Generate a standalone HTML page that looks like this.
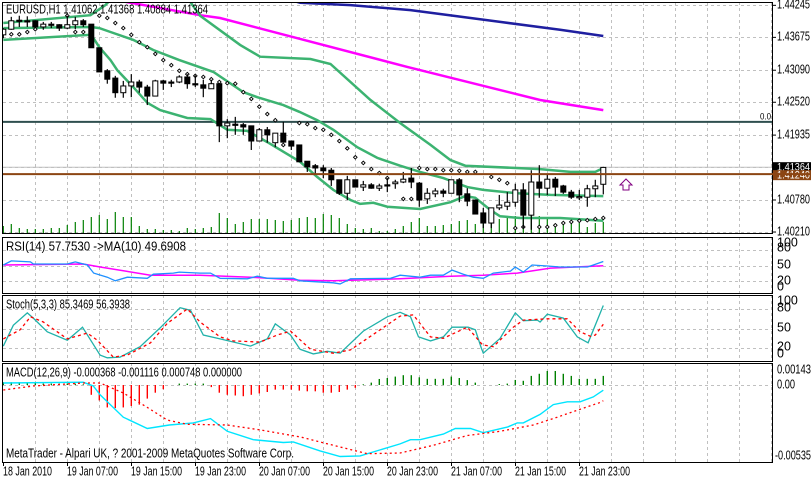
<!DOCTYPE html>
<html><head><meta charset="utf-8">
<style>
html,body{margin:0;padding:0;background:#fff;}
svg{display:block;font-family:"Liberation Sans",sans-serif;}
</style></head>
<body>
<svg id="chart" width="811" height="479" viewBox="0 0 811 479" xmlns="http://www.w3.org/2000/svg">
<rect x="0" y="0" width="811" height="479" fill="#fff"/>
<defs>
<clipPath id="cMain"><rect x="3" y="2" width="769" height="231"/></clipPath>
<clipPath id="cRsi"><rect x="3" y="238" width="769" height="55"/></clipPath>
<clipPath id="cSto"><rect x="3" y="296" width="769" height="65"/></clipPath>
<clipPath id="cMacd"><rect x="3" y="364" width="769" height="98"/></clipPath>
</defs>
<g id="grid"></g>
<g id="main" clip-path="url(#cMain)"></g>
<g id="rsi" clip-path="url(#cRsi)"></g>
<g id="sto" clip-path="url(#cSto)"></g>
<g id="macd" clip-path="url(#cMacd)"></g>
<g id="frames"></g>
<g id="labels"></g>
</svg>
<script>
// ---- data (prices in 1e-4 units, e.g. 14372 = 1.4372) ----
const timeLabels=["18 Jan 2010","19 Jan 07:00","19 Jan 15:00","19 Jan 23:00","20 Jan 07:00","20 Jan 15:00","20 Jan 23:00","21 Jan 07:00","21 Jan 15:00","21 Jan 23:00"];
const openP=[14372,14382,14398,14397,14397,14386,14391,14390,14384,14390,
14397,14391,14349,14308,14295,14269,14281,14288,14279,14263,
14290,14288,14288,14297,14285,14283,14276,14285,14210,14213,
14212,14210,14183,14203,14180,14197,14183,14176,14147,14139,
14135,14131,14114,14090,14114,14101,14105,14099,14105,14107,
14110,14117,14108,14080,14089,14094,14090,14114,14089,14078,
14055,14037,14064,14067,14074,14096,14051,14110,14099,14115,
14103,14092,14083,14083,14098,14106];
const highP=[14384,14404,14406,14405,14398,14395,14395,14391,14406,14404,
14400,14391,14349,14311,14299,14290,14302,14292,14283,14292,
14292,14292,14300,14302,14300,14292,14292,14285,14222,14226,
14215,14210,14206,14208,14197,14217,14183,14176,14147,14142,
14140,14135,14114,14121,14114,14112,14108,14107,14117,14114,
14128,14135,14110,14099,14099,14098,14114,14117,14099,14078,
14064,14064,14087,14092,14107,14108,14131,14140,14123,14119,
14105,14096,14096,14105,14114,14137];
const lowP=[14366,14381,14386,14386,14384,14381,14384,14379,14382,14382,
14386,14349,14306,14285,14260,14260,14261,14269,14247,14263,
14274,14279,14286,14276,14279,14261,14276,14181,14188,14194,
14194,14167,14183,14180,14172,14180,14167,14146,14128,14123,
14117,14103,14087,14078,14101,14094,14098,14094,14092,14098,
14108,14099,14066,14071,14083,14083,14090,14074,14067,14053,
14028,14028,14060,14060,14066,14028,14025,14082,14087,14085,
14089,14080,14078,14066,14083,14088];
const closeP=[14382,14397,14397,14396,14386,14391,14389,14384,14390,14397,
14390,14349,14306,14293,14269,14281,14288,14279,14263,14290,
14286,14287,14297,14285,14284,14277,14285,14210,14215,14212,
14208,14183,14203,14194,14197,14181,14174,14146,14137,14135,
14130,14114,14090,14114,14101,14105,14099,14103,14104,14110,
14115,14110,14078,14090,14094,14090,14114,14087,14076,14053,
14037,14064,14069,14074,14096,14051,14110,14099,14115,14101,
14092,14083,14084,14098,14103,14136];
const volumes=[700,900,500,400,400,400,500,500,800,1100,
1300,1600,1800,1400,2100,1600,1600,700,400,400,
300,300,200,500,400,500,600,2000,1500,900,
1100,1400,1400,1400,1300,1200,1300,1500,1600,1500,
1900,1800,1500,900,500,400,500,200,200,400,
700,1100,1500,700,700,800,900,1200,1300,900,
1400,1500,1400,1700,1700,1700,1800,1700,1500,900,
1000,1000,1000,600,1000,1100];
const sarP=[14375,14373,14373,14377,14382,null,null,null,14406,14377,
14377,null,14406,14402,14393,14384,14372,14359,14350,14338,
14327,14318,14308,14302,14299,14297,14293,14288,14286,14285,
14270,14258,14244,14231,14220,14176,null,14215,14213,14206,
14203,14194,14183,14170,14154,14144,14133,14126,14117,null,
14080,14080,14135,14133,14133,14131,14131,14130,14128,14128,
null,14119,14114,14108,14028,14030,null,14030,14030,14033,
14037,14039,14041,14042,14044,14046];
const bandUpIdx=[0,10.9,12.75,14,22.75,24.6,29.6,32.1,38.4,40.9,45.9,49.6,53.4,55.9,57.75,67.1,70.9,74,75];
const bandUpVal=[14393,14407,14425,14443,14443,14406,14354,14333,14329,14320,14256,14215,14176,14149,14139,14133,14128,14128,14135];
const bandMidIdx=[0,11,12,13.4,16.25,18.75,22,26.25,30,31.75,35,37,39.25,41.25,44.25,46.75,49.6,52.1,55,58,60,64.25,68.4,75];
const bandMidVal=[14384,14386,14384,14377,14363,14345,14327,14306,14270,14261,14247,14235,14220,14203,14172,14153,14139,14128,14117,14101,14096,14090,14087,14085];
const bandLowIdx=[0,11,12,13.4,14.25,16.25,18,19.6,23,25.9,28,30.5,33,37.1,39.25,41.25,43.4,44.6,46.25,48,52.1,55.9,57.75,59,60.9,62.1,64.6,69.6,75];
const bandLowVal=[14363,14372,14350,14327,14309,14279,14251,14238,14224,14222,14203,14201,14181,14146,14119,14096,14078,14071,14073,14066,14062,14074,14085,14082,14060,14049,14046,14046,14041];
const maSlowIdx=[35.9,37.1,43.4,50.9,62.1,69.6,75];
const maSlowVal=[14434,14429,14425,14416,14395,14381,14370];
const maMidIdx=[14,24.6,27.1,50.5,67.1,75];
const maMidVal=[14434,14407,14402,14315,14256,14238];
const rsiIdx=[0,1,3.4,3.75,8,9,10.5,11.3,13,14,15.5,18,18.75,21.25,22,24.6,25.9,27.1,30.5,31.75,33,36.25,37.1,41.25,42.1,43.4,48.4,49.6,52.1,53.4,55,56.1,57.5,58.75,60,61.25,63.4,64,65,66.1,68,69.6,73,73.75,75];
const rsiVal=[51,59,57,53,53,57,51,35,27,20,27,25,33,35,37,35,35,25,24,29,25,25,20,16,14,24,25,31,27,31,31,41,33,27,25,35,39,47,37,51,49,47,47,51,57.75];
const rsiMaIdx=[0,10,12.1,18.4,24.6,30.9,37.1,41.25,49.6,55.9,60,64.25,68.4,75];
const rsiMaVal=[51,53,47,31,31,27,21,20,24,29,31,35,45,49.7];
const stoMainIdx=[0,1.25,3,3.75,5.5,8,9.9,12.1,13,14.6,17.1,19.6,22.1,23.4,25,27.1,30.9,33,34,35.9,37.1,38.75,40.5,42.1,45,48,49.6,50.9,51.9,53.4,55,56.1,58.1,59,59.75,60,62.1,64,65,66.75,67.1,68,70,71.75,73.1,75];
const stoMainVal=[23,55,74,66,45,32,52,9,5,6,22,51,82,78,40,34,23,34,57,40,18,11,15,12,46,68,75,68,37,31,37,52,52,48,20,12,35,74,62,63,60,72,66,37,28,85.35];
const stoSigIdx=[0,2.1,3.4,5,8,10.5,11.75,13.75,15.5,18.4,20.5,23,24.6,27.1,28.75,32.1,34.25,35.9,38.4,41.25,43.4,47.1,49.6,51.25,53.4,55,58,59.9,61.25,63.75,65,68,70.5,72.1,73.4,74,75];
const stoSigVal=[34,48,68,60,34,43,32,6,9,28,58,80,60,37,31,29,40,46,18,12,17,48,69,71,37,35,52,25,22,52,63,65,65,45,38,40,56.39];
const macdIdx=[0,10,11.25,12.1,15,18,20.75,23.75,25.9,28,31.25,35,36.25,39.6,42.1,44.6,49.6,50.9,52.1,55,56.5,58.4,60,63,64.25,65,67.1,68.75,70.5,72.1,73.75,75];
const macdVal=[1.4,2,-0.7,-7,-23,-31,-28.5,-27,-24,-33,-39,-41,-40.6,-47,-51,-50.6,-42,-39,-39,-35,-31,-31,-34,-30,-27,-27,-21,-14,-12,-12,-8.5,-3.7];
const signalIdx=[0,3.75,10,12.1,15,18,20.5,23,28,32.1,37.1,41.25,45.5,49.6,53.75,58,62.1,66.25,69.25,71.75,74.6,75];
const signalVal=[-3.6,-0.7,1.4,1.4,-5.7,-16,-25,-28,-28.5,-32,-37,-43,-49,-48.5,-43,-36,-33,-28.5,-23,-18,-12.5,-11.2];
const osmaVal=[2,2,2,2,2,1,1,1,1,1,
0.5,-7,-11,-16,-16.5,-16,-15,-14,-9.7,-5.5,
-3,0,1,1,1,1,-1.5,-5.5,-7,-7.5,
-8,-7,-6,-5,-3.3,-3.3,-3.3,-4,-4.5,-4.5,
-5.5,-5.5,-5,-3.3,-2,0.5,1.7,4.3,5,6,
7,7,5.5,4.4,4.4,4.4,6,5,3.5,1.7,
0,0,0.7,1,3.6,3,6.5,8,10,10,
8,6.5,4.4,4.4,4.4,6.5];
const priceTicks=[14424.5,14367.5,14309,14252,14193.5,14078,14021];
const priceTickLabels=["1.44245","1.43675","1.43090","1.42520","1.41935","1.40780","1.40210"];
const bidP=14136.4, alertP=14124.0, levelP=14217;

// ---- scales ----
const NS="http://www.w3.org/2000/svg";
function xB(i){return 3.3+8*i;}
function yP(p){return (14434-p)/1.78;}
function yVol(v){return 233-v/100;}
function yRsi(v){return 291-0.51*v;}
function ySto(v){return 361-0.65*v;}
function yMacd(v){return 385-v*1.402;}
function mk(tag,attrs,parent){const e=document.createElementNS(NS,tag);for(const k in attrs)e.setAttribute(k,attrs[k]);parent.appendChild(e);return e;}
function poly(idx,val,yf,parent,stroke,w,dash,name){
  const pts=idx.map((d,k)=>xB(d).toFixed(1)+","+yf(val[k]).toFixed(1)).join(" ");
  const e=mk("polyline",{points:pts,fill:"none",stroke:stroke,"stroke-width":w},parent);
  if(dash)e.setAttribute("stroke-dasharray",dash);
  
  
  return e;
}
const G=document.getElementById("grid"),M=document.getElementById("main"),R=document.getElementById("rsi"),S=document.getElementById("sto"),D=document.getElementById("macd"),F=document.getElementById("frames"),L=document.getElementById("labels");
const panels=[[2,233],[237,293],[295,361],[363,462]];
for(let x=35;x<772;x+=32){
  panels.forEach(p=>{
    const l=mk("line",{x1:x+0.5,x2:x+0.5,y1:p[0],y2:p[1],stroke:"#c0c0c0","stroke-dasharray":"3,3"},G);
    
    
  });
}
function hgrid(y){const l=mk("line",{x1:3,x2:772,y1:Math.round(y)+0.5,y2:Math.round(y)+0.5,stroke:"#c0c0c0","stroke-dasharray":"3,3"},G);
  
  }
priceTicks.forEach(p=>hgrid(yP(p)));
hgrid(yP(14136));
[20,50,80].forEach(v=>hgrid(yRsi(v)));
[20,50,80].forEach(v=>hgrid(ySto(v)));
hgrid(yMacd(0));

volumes.forEach((v,i)=>{const l=mk("line",{x1:xB(i),x2:xB(i),y1:233,y2:yVol(v),stroke:"#008000","stroke-width":1.2},M);
  
  });
let hl=mk("line",{x1:3,x2:772,y1:yP(levelP),y2:yP(levelP),stroke:"#2f4f4f","stroke-width":2},M);


hl=mk("line",{x1:3,x2:772,y1:yP(bidP),y2:yP(bidP),stroke:"#c0c0c0","stroke-width":1},M);


poly(maSlowIdx,maSlowVal,yP,M,"#1f1fa0",2.5,null,"slow-ma-line");
poly(maMidIdx,maMidVal,yP,M,"#ff00ff",2.5,null,"mid-ma-line");
poly(bandUpIdx,bandUpVal,yP,M,"#3cb371",2.5,null,"band-upper");
poly(bandMidIdx,bandMidVal,yP,M,"#3cb371",2.5,null,"band-middle");
poly(bandLowIdx,bandLowVal,yP,M,"#3cb371",2.5,null,"band-lower");
sarP.forEach((s,i)=>{if(s===null)return;const x=xB(i),y=yP(s);
  const d=mk("path",{d:`M${x} ${y-1.8}L${x+1.8} ${y}L${x} ${y+1.8}L${x-1.8} ${y}Z`,fill:"#fff",stroke:"#000","stroke-width":0.9},M);
  
  });
openP.forEach((o,i)=>{
  const c=closeP[i],x=xB(i);
  const w=mk("line",{x1:x,x2:x,y1:yP(highP[i]),y2:yP(lowP[i]),stroke:"#000","stroke-width":1.2},M);
  
  
  const top=yP(Math.max(o,c)),bot=yP(Math.min(o,c));
  const b=mk("rect",{x:x-2.5,y:top,width:5,height:Math.max(bot-top,1.2),fill:c>=o?"#fff":"#000",stroke:"#000","stroke-width":1},M);
  
  
});
hl=mk("line",{x1:3,x2:811,y1:yP(alertP),y2:yP(alertP),stroke:"#8b4513","stroke-width":2},document.getElementById("chart"));


const ar=mk("path",{d:"M626 179 L632 185 L629 185 L629 190 L623 190 L623 185 L620 185 Z",fill:"#fff",stroke:"#800080","stroke-width":1},document.getElementById("chart"));



poly(rsiMaIdx,rsiMaVal,yRsi,R,"#ff00ff",1.5,null,"rsi-ma-line");
poly(rsiIdx,rsiVal,yRsi,R,"#1e90ff",1.3,null,"rsi-line");
poly(stoMainIdx,stoMainVal,ySto,S,"#20b2aa",1.3,null,"stoch-main-line");
poly(stoSigIdx,stoSigVal,ySto,S,"#ff0000",1.3,"3,3","stoch-signal-line");
osmaVal.forEach((v,i)=>{if(v===0)return;const l=mk("line",{x1:xB(i),x2:xB(i),y1:yMacd(0),y2:yMacd(v),stroke:v>0?"#008000":"#ff0000","stroke-width":1.4},D);
  
  });
poly(macdIdx,macdVal,yMacd,D,"#00e5ff",1.4,null,"macd-line");
poly(signalIdx,signalVal,yMacd,D,"#ff0000",1.3,"2,3","macd-signal-line");

panels.forEach(p=>{const r=mk("rect",{x:2.5,y:p[0]+0.5,width:770,height:p[1]-p[0],fill:"none",stroke:"#000","stroke-width":1},F);
  
  });

function txt(x,y,s,name,len,opt){const t=mk("text",Object.assign({x:x,y:y,"font-size":12.5,fill:"#000","dominant-baseline":"middle"},opt||{}),L);t.textContent=s;
  if(len){t.setAttribute("textLength",len);t.setAttribute("lengthAdjust","spacingAndGlyphs");}
  
  return t;}
txt(6,10,"EURUSD,H1  1.41062 1.41368 1.40884 1.41364","price-panel-title",202,{"xml:space":"preserve"});
txt(6,247,"RSI(14) 57.7530 ->MA(10) 49.6908","rsi-title",180);
txt(6,305,"Stoch(5,3,3) 85.3469 56.3938","stoch-title",124);
txt(6,373,"MACD(12,26,9) -0.000368 -0.001116 0.000748 0.000000","macd-title",236);
txt(6,454,"MetaTrader - Alpari UK, ? 2001-2009 MetaQuotes Software Corp.","copyright-text",288);
txt(760,117,"0.0","level-label",11,{"font-size":9});
priceTicks.forEach((p,k)=>{const y=yP(p);
  const tk=mk("line",{x1:772,x2:776,y1:y,y2:y,stroke:"#000"},L);
  
  
  txt(777,y,priceTickLabels[k],"price-axis-label",33);});
let bx=mk("rect",{x:773,y:yP(bidP)-5,width:38,height:10,fill:"#000"},L);


txt(777,yP(bidP)+0.5,"1.41364","bid-price-label",33,{fill:"#fff","font-size":11});
bx=mk("rect",{x:773,y:yP(alertP)-4,width:38,height:10,fill:"#8b4513"},L);


txt(777,yP(alertP)+1.5,"1.41240","alert-price-label",33,{fill:"#fff","font-size":11});
const rsiAx=[[100,243],[80,248],[50,265],[20,281],[0,287]];
rsiAx.forEach(a=>txt(777,a[1],String(a[0]),"rsi-axis-label"));
const stoAx=[[100,301],[80,308],[50,328],[20,347],[0,354]];
stoAx.forEach(a=>txt(777,a[1],String(a[0]),"stoch-axis-label"));
txt(777,370,"0.00143","macd-axis-label",34);
txt(777,385,"0.00","macd-axis-label",18);
txt(775,456,"-0.00535","macd-axis-label",36);
timeLabels.forEach((s,k)=>{const x=3+64*k;
  const tk=mk("line",{x1:x+0.5,x2:x+0.5,y1:462,y2:466,stroke:"#000"},L);
  
  
  txt(x,472,s,"time-axis-label",k===0?49:51);});
</script>
</body></html>
